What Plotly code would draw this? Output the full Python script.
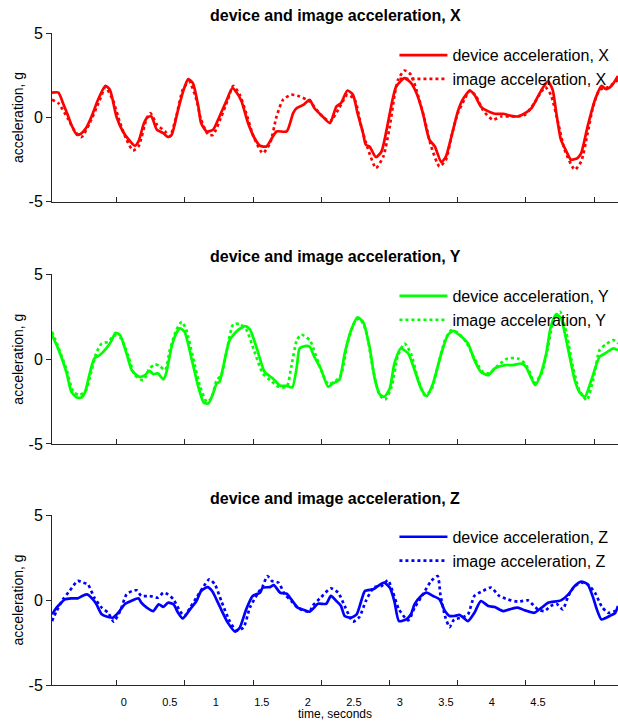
import plotly.graph_objects as go

# ---------------- data (time in seconds, acceleration in g) ----------------
t_dev_x = [-0.78,-0.71,-0.66,-0.61,-0.57,-0.51,-0.46,-0.41,-0.35,-0.28,
           -0.20,-0.15,-0.08,-0.01,0.07,0.12,0.16,0.22,0.26,0.30,
           0.36,0.43,0.48,0.52,0.59,0.65,0.70,0.75,0.81,0.84,
           0.90,0.97,1.04,1.12,1.18,1.23,1.28,1.35,1.42,1.48,
           1.55,1.61,1.66,1.77,1.84,1.88,1.95,2.02,2.07,2.16,
           2.24,2.31,2.36,2.43,2.49,2.54,2.60,2.63,2.67,2.74,
           2.80,2.87,2.92,2.96,3.05,3.12,3.18,3.25,3.32,3.38,
           3.45,3.50,3.56,3.63,3.68,3.76,3.81,3.88,3.94,4.03,
           4.12,4.21,4.28,4.36,4.43,4.50,4.55,4.61,4.66,4.70,
           4.75,4.81,4.86,4.93,4.97,5.04,5.12,5.19,5.24,5.30,5.37]
acc_dev_x = [1.48,1.48,0.85,0.16,-0.43,-1.03,-0.94,-0.63,0.06,1.05,
             1.88,1.64,0.06,-0.83,-1.42,-1.68,-1.42,-0.33,0.02,0.06,
             -0.73,-0.93,-1.16,-1.03,0.46,1.64,2.28,2.05,0.65,-0.33,
             -0.83,-0.73,0.06,1.05,1.74,1.45,0.95,-0.33,-1.22,-1.68,
             -1.72,-1.22,-0.83,-0.83,0.26,0.56,0.75,1.05,0.56,0.06,
             -0.33,0.65,0.85,1.60,1.35,0.26,-0.93,-1.62,-1.72,-2.35,
             -2.02,-0.33,1.05,1.84,2.34,2.05,1.45,0.26,-1.32,-1.72,
             -2.65,-2.32,-1.13,0.36,1.05,1.60,1.35,0.65,0.42,0.22,
             0.22,0.10,0.06,0.26,0.56,1.25,1.74,2.14,1.64,0.26,
             -1.32,-2.02,-2.51,-2.41,-2.12,-0.53,1.05,1.88,1.68,1.88,2.47]

t_img_x = [-0.78,-0.71,-0.61,-0.53,-0.46,-0.37,-0.26,-0.20,-0.12,-0.04,
           0.03,0.10,0.16,0.25,0.29,0.36,0.45,0.50,0.57,0.64,
           0.71,0.79,0.84,0.92,0.97,1.06,1.13,1.19,1.26,1.33,
           1.41,1.51,1.59,1.66,1.73,1.82,1.91,2.02,2.14,2.24,
           2.33,2.43,2.51,2.58,2.65,2.74,2.82,2.89,2.94,2.98,
           3.05,3.12,3.20,3.27,3.34,3.43,3.50,3.56,3.63,3.70,
           3.76,3.83,3.90,4.01,4.10,4.25,4.36,4.46,4.54,4.58,
           4.64,4.72,4.79,4.90,4.97,5.04,5.10,5.17,5.26,5.37]
acc_img_x = [1.05,0.85,-0.04,-0.83,-1.16,-0.33,1.05,1.80,1.05,-0.33,
             -1.32,-1.96,-1.72,-0.04,0.26,-0.43,-0.83,-1.13,0.06,1.64,
             2.14,1.05,-0.14,-1.03,-1.03,0.06,1.05,1.88,1.35,0.26,
             -1.13,-2.12,-1.52,0.06,1.05,1.35,1.25,0.95,0.16,-0.24,
             0.46,1.35,1.05,-0.53,-1.82,-3.0,-2.32,-0.53,1.25,2.24,
             2.79,2.54,1.25,-0.14,-1.72,-2.91,-2.51,-1.13,0.26,1.05,
             1.60,1.25,0.46,-0.14,0.06,0.06,0.16,0.85,1.55,1.80,
             1.35,-0.33,-1.92,-3.1,-2.61,-0.93,0.65,1.64,1.80,2.24]

t_dev_y = [-0.78,-0.73,-0.68,-0.62,-0.57,-0.51,-0.46,-0.42,-0.37,-0.32,
           -0.26,-0.19,-0.13,-0.09,-0.04,0.03,0.09,0.17,0.23,0.28,
           0.32,0.37,0.43,0.46,0.52,0.57,0.61,0.66,0.74,0.81,
           0.87,0.92,0.97,1.01,1.04,1.08,1.15,1.24,1.32,1.37,
           1.44,1.53,1.62,1.70,1.77,1.83,1.88,1.91,1.97,2.02,
           2.07,2.14,2.22,2.27,2.34,2.40,2.47,2.54,2.60,2.67,
           2.73,2.78,2.83,2.89,2.94,3.01,3.09,3.16,3.23,3.29,
           3.36,3.45,3.52,3.58,3.65,3.74,3.81,3.88,3.96,4.03,
           4.14,4.23,4.32,4.37,4.43,4.47,4.52,4.59,4.64,4.70,
           4.75,4.83,4.90,4.95,5.01,5.08,5.17,5.24,5.32,5.37]
acc_dev_y = [1.41,0.83,0.14,-0.84,-1.93,-2.26,-2.26,-1.93,-0.84,0.04,
             0.24,0.63,1.12,1.55,1.41,0.33,-0.69,-1.04,-0.94,-0.69,
             -0.88,-0.84,-1.20,-0.84,0.73,1.51,1.81,1.61,-0.06,-1.63,
             -2.57,-2.61,-2.02,-1.43,-1.34,-0.45,1.12,1.71,1.94,1.75,
             0.73,-0.75,-1.14,-1.57,-1.57,-1.67,-0.45,0.63,0.77,0.73,
             0.14,-0.55,-1.63,-1.43,-1.24,0.33,1.71,2.46,2.20,0.73,
             -1.24,-2.06,-2.22,-1.73,-0.26,0.63,0.33,-0.65,-1.73,-2.18,
             -1.43,0.33,1.41,1.67,1.41,0.92,-0.06,-0.75,-0.94,-0.55,
             -0.35,-0.35,-0.26,-0.45,-1.14,-1.53,-1.04,0.33,1.91,2.65,
             2.40,0.53,-1.24,-1.93,-2.22,-1.24,0.14,0.37,0.63,0.53]

t_img_y = [-0.78,-0.72,-0.62,-0.55,-0.48,-0.41,-0.35,-0.30,-0.24,-0.17,
           -0.10,-0.03,0.05,0.12,0.21,0.28,0.34,0.39,0.45,0.50,
           0.57,0.63,0.68,0.75,0.83,0.90,0.95,1.01,1.06,1.12,
           1.19,1.26,1.33,1.42,1.51,1.59,1.68,1.77,1.82,1.88,
           1.93,2.02,2.04,2.13,2.22,2.29,2.36,2.43,2.51,2.56,
           2.63,2.71,2.78,2.84,2.91,2.98,3.05,3.12,3.20,3.27,
           3.34,3.41,3.49,3.56,3.63,3.72,3.81,3.90,3.97,4.07,
           4.17,4.28,4.36,4.41,4.46,4.54,4.61,4.67,4.74,4.81,
           4.88,4.95,5.03,5.10,5.17,5.24,5.32,5.37]
acc_img_y = [1.61,0.83,-0.65,-1.93,-2.12,-1.83,-0.65,0.33,0.92,1.02,
             1.41,1.22,0.14,-0.94,-1.24,-0.55,-0.31,-0.41,-0.65,0.53,
             1.71,2.20,1.71,0.14,-1.63,-2.51,-2.32,-1.24,-0.94,0.53,
             2.06,2.06,1.75,0.43,-0.84,-1.24,-1.63,-1.63,-0.45,1.12,
             1.45,1.12,0.92,-0.45,-1.47,-1.34,-0.94,0.92,2.20,2.40,
             1.71,-0.65,-2.12,-2.38,-1.63,0.24,0.92,0.33,-1.24,-2.12,
             -1.83,-0.45,1.12,1.71,1.55,1.02,0.04,-0.75,-0.84,-0.35,
             0.04,0.04,-0.26,-0.75,-1.39,-0.84,0.73,2.30,2.79,1.51,
             -0.45,-1.83,-2.42,-1.24,0.53,0.88,1.12,0.92]

t_dev_z = [-0.78,-0.73,-0.68,-0.64,-0.57,-0.50,-0.45,-0.40,-0.36,-0.30,
           -0.24,-0.17,-0.12,-0.06,0.01,0.08,0.16,0.19,0.25,0.32,
           0.38,0.43,0.48,0.54,0.59,0.64,0.72,0.79,0.84,0.91,
           0.96,1.04,1.13,1.21,1.26,1.33,1.40,1.48,1.51,1.59,
           1.63,1.70,1.77,1.82,1.89,1.97,2.02,2.05,2.11,2.20,
           2.25,2.31,2.36,2.40,2.47,2.53,2.58,2.62,2.71,2.76,
           2.83,2.89,2.94,2.99,3.07,3.12,3.16,3.23,3.29,3.36,
           3.43,3.49,3.54,3.59,3.65,3.74,3.81,3.88,3.96,4.03,
           4.12,4.19,4.28,4.36,4.46,4.54,4.61,4.75,4.83,4.90,
           4.97,5.04,5.10,5.14,5.19,5.28,5.34,5.37]
acc_dev_z = [-0.84,-0.45,-0.16,0.04,0.10,0.10,0.24,0.33,0.18,-0.22,
             -0.84,-1.0,-1.04,-0.75,-0.25,-0.06,0.10,-0.16,-0.45,-0.65,
             -0.25,-0.41,-0.16,-0.25,-0.75,-1.08,-0.55,-0.06,0.53,0.76,
             0.53,-0.35,-1.33,-1.86,-1.63,-0.55,0.24,0.43,0.73,0.76,
             0.88,0.43,0.37,0.04,-0.45,-0.61,-0.69,-0.55,-0.22,-0.22,
             0.24,-0.06,-0.35,-0.94,-1.04,-0.84,-0.06,0.53,0.63,0.82,
             1.02,0.73,-0.06,-1.24,-1.14,-0.84,-0.25,0.24,0.43,0.24,
             0.04,-0.65,-0.94,-0.94,-0.88,-1.24,-0.75,-0.06,-0.35,-0.41,
             -0.65,-0.55,-0.45,-0.61,-0.75,-0.45,-0.16,-0.02,0.33,0.82,
             1.08,0.92,0.14,-0.55,-1.14,-0.94,-0.75,-0.35]

t_img_z = [-0.78,-0.73,-0.66,-0.59,-0.50,-0.44,-0.39,-0.32,-0.24,-0.17,
           -0.11,-0.04,0.03,0.09,0.14,0.19,0.28,0.37,0.43,0.48,
           0.54,0.61,0.66,0.72,0.79,0.86,0.93,0.99,1.06,1.15,
           1.22,1.30,1.37,1.46,1.51,1.56,1.61,1.68,1.75,1.82,
           1.89,1.97,2.02,2.05,2.14,2.25,2.33,2.40,2.49,2.56,
           2.63,2.72,2.80,2.87,2.92,2.99,3.09,3.16,3.25,3.34,
           3.41,3.44,3.49,3.54,3.59,3.67,3.74,3.81,3.90,3.99,
           4.08,4.17,4.28,4.39,4.50,4.57,4.64,4.70,4.77,4.83,
           4.90,4.97,5.04,5.12,5.19,5.26,5.34,5.37]
acc_img_z = [-1.24,-0.65,0.04,0.53,1.12,1.02,0.92,0.14,-0.45,-0.75,
             -1.27,-0.65,0.33,0.53,0.57,0.24,0.24,0.14,0.43,0.33,
             0.04,-0.65,-0.94,-0.45,0.14,0.73,1.22,0.92,-0.06,-1.24,
             -1.78,-1.63,-0.45,0.43,0.82,1.41,1.12,1.02,0.33,-0.06,
             -0.45,-0.65,-0.69,-0.35,0.14,0.69,0.43,-0.35,-1.27,-1.0,
             -0.06,0.76,0.82,1.16,0.53,-0.55,-1.20,-0.45,0.33,1.12,
             1.41,0.33,-0.94,-1.59,-1.14,-1.04,-0.84,0.24,0.53,0.73,
             0.24,0.04,-0.10,-0.02,-0.55,-0.65,-0.35,-0.22,-0.55,0.24,
             0.82,1.02,0.92,0.43,-0.35,-0.75,-0.65,-0.55]

axes_names = ["X", "Y", "Z"]
colors = ["#ff0000", "#00ff00", "#0000ff"]
tick_marks = [-0.076, 0.663, 1.413, 2.152, 2.891, 3.630, 4.370, 5.120]
label_vals = [0, 0.5, 1, 1.5, 2, 2.5, 3, 3.5, 4, 4.5]
label_text = ["0", "0.5", "1", "1.5", "2", "2.5", "3", "3.5", "4", "4.5"]
x_range = [-0.78, 5.37]
y_range = [-5, 5]
y_ticks = [-5, 0, 5]
y_tick_text = ["-5", "0", "5"]

series = [
    (t_dev_x, acc_dev_x, t_img_x, acc_img_x),
    (t_dev_y, acc_dev_y, t_img_y, acc_img_y),
    (t_dev_z, acc_dev_z, t_img_z, acc_img_z),
]

# ---------------- layout geometry ----------------
W, H = 618, 721
FONT = "Liberation Sans, Arial, Helvetica, sans-serif"
AX = "#262626"
y_domains = [[0.7203, 0.9538], [0.3842, 0.6196], [0.0499, 0.2857]]
title_y = [0.979, 0.644, 0.309]
legend_y = [0.947, 0.613, 0.279]

fig = go.Figure()
layout = dict(
    width=W, height=H,
    margin=dict(l=52, r=0, t=0, b=0, autoexpand=False),
    paper_bgcolor="white", plot_bgcolor="white",
    font=dict(family=FONT, color="black"),
    showlegend=True,
    annotations=[],
)

for i, (td, ad, ti, ai) in enumerate(series):
    k = "" if i == 0 else str(i + 1)
    leg = "legend" + k
    name = axes_names[i]
    fig.add_trace(go.Scatter(
        x=td, y=ad, mode="lines", name=f"device acceleration, {name}",
        line=dict(color=colors[i], width=2.7, shape="spline", smoothing=0.6),
        xaxis="x" + k, yaxis="y" + k, legend=leg, legendgroup=f"d{i}"))
    fig.add_trace(go.Scatter(
        x=ti, y=ai, mode="lines", name=f"image acceleration, {name}",
        line=dict(color=colors[i], width=2.7, dash="dot", shape="spline", smoothing=0.6),
        xaxis="x" + k, yaxis="y" + k, legend=leg, legendgroup=f"i{i}"))

    layout["xaxis" + k] = dict(
        domain=[0, 1], anchor="y" + k, range=x_range,
        tickvals=tick_marks, ticks="inside", ticklen=5, tickcolor=AX,
        showticklabels=False, showline=True, linecolor=AX, linewidth=1,
        showgrid=False, zeroline=False, fixedrange=True)
    layout["yaxis" + k] = dict(
        domain=y_domains[i], anchor="x" + k, range=y_range,
        tickvals=y_ticks, ticktext=y_tick_text, ticks="outside", ticklen=5, tickcolor=AX,
        tickfont=dict(size=16, family=FONT, color="black"),
        showline=True, linecolor=AX, linewidth=1,
        showgrid=False, zeroline=False, fixedrange=True,
        title=dict(text="acceleration, g", font=dict(size=14, family=FONT), standoff=1))
    layout["annotations"].append(dict(
        text=f"<b>device and image acceleration, {name}</b>",
        x=0.5, y=title_y[i], xref="paper", yref="paper",
        xanchor="center", yanchor="middle", showarrow=False,
        font=dict(size=16, family=FONT, color="black")))
    layout[leg] = dict(
        x=0.605, y=legend_y[i], xref="paper", yref="paper",
        xanchor="left", yanchor="top", bgcolor="rgba(0,0,0,0)",
        borderwidth=0, font=dict(size=16, family=FONT, color="black"),
        itemwidth=48, traceorder="grouped", tracegroupgap=0)

# invisible carrier trace so the label axis of the time scale is drawn
fig.add_trace(go.Scatter(x=[label_vals[0]], y=[0], mode="markers",
                         marker=dict(opacity=0), showlegend=False,
                         hoverinfo="skip", xaxis="x4", yaxis="y3"))

# tick labels of the bottom time axis (offset from its tick marks, as in the original)
layout["xaxis4"] = dict(
    overlaying="x3", anchor="y3", side="bottom", range=x_range,
    tickvals=label_vals, ticktext=label_text, ticks="", showline=False,
    showgrid=False, zeroline=False, fixedrange=True,
    tickfont=dict(size=11, family=FONT, color="black"), ticklabelstandoff=9,
    title=dict(text="time, seconds", font=dict(size=12, family=FONT), standoff=7))

fig.update_layout(**layout)
fig.write_html(
    "out.html",
    config={"displayModeBar": False},
    post_script="document.body.style.margin='0';document.body.style.overflow='hidden';")
